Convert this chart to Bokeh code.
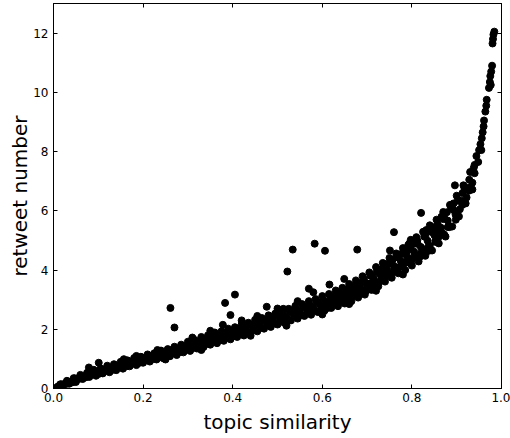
from bokeh.plotting import figure
from bokeh.models import Range1d, FixedTicker, LinearAxis, ColumnDataSource, NumeralTickFormatter, CustomJSTickFormatter
from bokeh.embed import file_html
from bokeh.resources import INLINE

# lower edge of the dense band
band_low_x = [0.005,0.020,0.035,0.050,0.065,0.080,0.095,0.110,0.125,0.140,0.155,0.170,0.185,0.200,0.215,0.230,0.245,0.260,0.275,0.290,0.305,0.320,0.335,0.350,0.365,0.380,0.395,0.410,0.425,0.440,0.455,0.470,0.485,0.500,0.515,0.530,0.545,0.560,0.575,0.590,0.605,0.620,0.635,0.650,0.665,0.680,0.695,0.710,0.725,0.740,0.755,0.770,0.785,0.800,0.815,0.830,0.845,0.860,0.875,0.890,0.905,0.920,0.935]
band_low_y = [0.02,0.07,0.16,0.22,0.32,0.39,0.43,0.51,0.55,0.62,0.67,0.75,0.79,0.87,0.91,0.98,1.02,1.09,1.13,1.22,1.27,1.35,1.40,1.48,1.53,1.61,1.66,1.74,1.79,1.87,1.93,2.02,2.08,2.16,2.22,2.30,2.36,2.45,2.49,2.58,2.63,2.72,2.78,2.87,2.95,3.07,3.17,3.33,3.45,3.61,3.74,3.89,4.00,4.15,4.29,4.48,4.66,4.90,5.13,5.47,5.81,6.25,6.72]

# between lower edge and middle
band_lm_x = [0.0125,0.0275,0.0425,0.0575,0.0725,0.0875,0.1025,0.1175,0.1325,0.1475,0.1625,0.1775,0.1925,0.2075,0.2225,0.2375,0.2525,0.2675,0.2825,0.2975,0.3125,0.3275,0.3425,0.3575,0.3725,0.3875,0.4025,0.4175,0.4325,0.4475,0.4625,0.4775,0.4925,0.5075,0.5225,0.5375,0.5525,0.5675,0.5825,0.5975,0.6125,0.6275,0.6425,0.6575,0.6725,0.6875,0.7025,0.7175,0.7325,0.7475,0.7625,0.7775,0.7925,0.8075,0.8225,0.8375,0.8525,0.8675,0.8825,0.8975,0.9125,0.9275]
band_lm_y = [0.06,0.15,0.21,0.33,0.38,0.48,0.50,0.60,0.63,0.72,0.75,0.85,0.87,0.97,1.00,1.08,1.11,1.20,1.23,1.34,1.38,1.48,1.51,1.62,1.64,1.74,1.77,1.87,1.90,2.02,2.05,2.17,2.20,2.31,2.35,2.46,2.49,2.60,2.63,2.75,2.78,2.90,2.94,3.08,3.14,3.30,3.39,3.58,3.68,3.87,3.97,4.16,4.26,4.44,4.58,4.81,4.99,5.25,5.49,5.87,6.20,6.68]

# middle of the band
band_mid_x = [0.010,0.025,0.040,0.055,0.070,0.085,0.100,0.115,0.130,0.145,0.160,0.175,0.190,0.205,0.220,0.235,0.250,0.265,0.280,0.295,0.310,0.325,0.340,0.355,0.370,0.385,0.400,0.415,0.430,0.445,0.460,0.475,0.490,0.505,0.520,0.535,0.550,0.565,0.580,0.595,0.610,0.625,0.640,0.655,0.670,0.685,0.700,0.715,0.730,0.745,0.760,0.775,0.790,0.805,0.820,0.835,0.850,0.865,0.880,0.895,0.910,0.925,0.940]
band_mid_y = [0.07,0.16,0.24,0.35,0.42,0.50,0.55,0.63,0.68,0.76,0.81,0.89,0.93,1.01,1.05,1.13,1.17,1.25,1.30,1.39,1.45,1.54,1.60,1.68,1.73,1.81,1.86,1.95,2.00,2.09,2.15,2.24,2.30,2.39,2.45,2.54,2.60,2.69,2.75,2.84,2.90,3.01,3.08,3.19,3.29,3.43,3.54,3.71,3.84,4.01,4.14,4.31,4.44,4.62,4.78,4.99,5.18,5.43,5.67,6.00,6.34,6.78,7.27]

# between middle and upper edge
band_mh_x = [0.0175,0.0325,0.0475,0.0625,0.0775,0.0925,0.1075,0.1225,0.1375,0.1525,0.1675,0.1825,0.1975,0.2125,0.2275,0.2425,0.2575,0.2725,0.2875,0.3025,0.3175,0.3325,0.3475,0.3625,0.3775,0.3925,0.4075,0.4225,0.4375,0.4525,0.4675,0.4825,0.4975,0.5125,0.5275,0.5425,0.5575,0.5725,0.5875,0.6025,0.6175,0.6325,0.6475,0.6625,0.6775,0.6925,0.7075,0.7225,0.7375,0.7525,0.7675,0.7825,0.7975,0.8125,0.8275,0.8425,0.8575,0.8725,0.8875,0.9025,0.9175]
band_mh_y = [0.14,0.22,0.34,0.41,0.52,0.57,0.66,0.70,0.79,0.83,0.92,0.96,1.05,1.08,1.17,1.20,1.30,1.33,1.44,1.49,1.60,1.64,1.75,1.79,1.88,1.92,2.02,2.05,2.17,2.21,2.32,2.36,2.47,2.51,2.63,2.67,2.78,2.82,2.94,2.98,3.10,3.17,3.30,3.38,3.54,3.63,3.81,3.93,4.12,4.24,4.43,4.55,4.76,4.90,5.13,5.29,5.55,5.75,6.07,6.34,6.76]

# upper edge of the band
band_high_x = [0.015,0.030,0.045,0.060,0.075,0.090,0.105,0.120,0.135,0.150,0.165,0.180,0.195,0.210,0.225,0.240,0.255,0.270,0.285,0.300,0.315,0.330,0.345,0.360,0.375,0.390,0.405,0.420,0.435,0.450,0.465,0.480,0.495,0.510,0.525,0.540,0.555,0.570,0.585,0.600,0.615,0.630,0.645,0.660,0.675,0.690,0.705,0.720,0.735,0.750,0.765,0.780,0.795,0.810,0.825,0.840,0.855,0.870,0.885,0.900,0.915,0.930]
band_high_y = [0.14,0.26,0.35,0.46,0.53,0.63,0.67,0.77,0.82,0.90,0.95,1.03,1.07,1.15,1.19,1.28,1.33,1.41,1.48,1.58,1.64,1.74,1.80,1.89,1.93,2.02,2.07,2.16,2.22,2.32,2.38,2.47,2.53,2.63,2.69,2.79,2.85,2.95,3.02,3.12,3.19,3.31,3.40,3.53,3.65,3.79,3.92,4.10,4.24,4.41,4.56,4.74,4.91,5.11,5.29,5.51,5.70,5.96,6.20,6.51,6.86,7.31]

# extra fill where the band is wider
fill_a_x = [0.620,0.640,0.660,0.680,0.700,0.720,0.740,0.760,0.780,0.800,0.820,0.840,0.860,0.880,0.900]
fill_a_y = [2.84,2.95,3.07,3.22,3.39,3.58,3.78,3.97,4.16,4.35,4.57,4.82,5.12,5.45,5.90]
fill_b_x = [0.630,0.650,0.670,0.690,0.710,0.730,0.750,0.770,0.790,0.810,0.830,0.850,0.870,0.890]
fill_b_y = [3.17,3.30,3.46,3.62,3.81,4.02,4.22,4.43,4.65,4.89,5.14,5.42,5.72,6.09]
fill_c_x = [0.603,0.612,0.623,0.633,0.642,0.652,0.661,0.668,0.676,0.684,0.693,0.698,0.706,0.713,0.722,0.727,0.736,0.743,0.748,0.757,0.763,0.772,0.777,0.786,0.792,0.798,0.806,0.812,0.818,0.826,0.832,0.838,0.846,0.853,0.858,0.866,0.872,0.878,0.884,0.893,0.898,0.907,0.913,0.922,0.928,0.935,0.938]
fill_c_y = [2.95,2.72,3.10,2.88,3.22,3.00,3.45,3.12,3.40,3.18,3.70,3.30,3.55,3.45,3.95,3.60,3.85,4.20,3.80,4.35,3.95,4.10,4.55,4.25,4.85,4.20,4.50,5.00,4.45,4.70,5.35,4.65,5.45,4.95,5.25,5.80,5.20,5.95,5.45,6.25,5.70,6.05,6.60,6.45,7.05,6.95,7.45]

# points poking out of the band edges
edge_x = [0.185,0.232,0.310,0.350,0.420,0.455,0.500,0.545,0.580,0.250,0.330,0.440,0.520,0.600,0.660,0.720,0.780]
edge_y = [1.10,1.30,1.72,1.95,2.30,2.45,2.70,2.95,3.25,0.98,1.30,1.78,2.12,2.50,2.85,3.30,3.85]

# steep top end
top_x = [0.940,0.944,0.948,0.950,0.953,0.956,0.955,0.958,0.960,0.961,0.964,0.966,0.967,0.972,0.974,0.975,0.977,0.979,0.976,0.980,0.981,0.982,0.984]
top_y = [7.55,7.85,7.65,8.05,8.25,8.45,8.05,8.65,8.85,9.05,9.35,9.55,9.75,10.15,10.35,10.55,10.70,10.90,10.25,11.65,11.80,11.95,12.05]

# scattered outliers
out_x = [0.079,0.101,0.157,0.261,0.270,0.383,0.405,0.395,0.378,0.476,0.513,0.522,0.534,0.583,0.606,0.570,0.616,0.649,0.678,0.751,0.760,0.7975,0.8205,0.896]
out_y = [0.71,0.87,0.99,2.72,2.06,2.89,3.17,2.48,2.15,2.76,2.69,3.95,4.69,4.89,4.65,3.37,3.51,3.70,4.69,4.66,5.28,5.02,5.93,6.86]

x_ticks = [0.0, 0.2, 0.4, 0.6, 0.8, 1.0]
y_ticks = [0, 2, 4, 6, 8, 10, 12]

xs = (band_low_x + band_lm_x + band_mid_x + band_mh_x + band_high_x
      + fill_a_x + fill_b_x + fill_c_x + edge_x + top_x + out_x)
ys = (band_low_y + band_lm_y + band_mid_y + band_mh_y + band_high_y
      + fill_a_y + fill_b_y + fill_c_y + edge_y + top_y + out_y)
src = ColumnDataSource(data=dict(x=xs, y=ys))

p = figure(width=510, height=438, output_backend="svg", toolbar_location=None,
           x_range=Range1d(0, 1.0), y_range=Range1d(0, 13),
           min_border_left=53, min_border_right=9, min_border_top=3, min_border_bottom=50)
p.background_fill_color = "white"
p.border_fill_color = "white"
p.outline_line_color = "black"
p.outline_line_width = 1
p.xgrid.visible = False
p.ygrid.visible = False

p.scatter("x", "y", source=src, size=7, fill_color="black", line_color="black")

FONT = "DejaVu Sans"
for ax in (p.xaxis[0], p.yaxis[0]):
    ax.major_tick_in = 4
    ax.major_tick_out = 0
    ax.minor_tick_line_color = None
    ax.axis_line_color = "black"
    ax.major_label_text_font = FONT
    ax.major_label_text_font_size = "12px"
    ax.major_label_text_color = "black"
    ax.axis_label_text_font = FONT
    ax.axis_label_text_font_size = "20px"
    ax.axis_label_text_font_style = "normal"
    ax.axis_label_text_color = "black"

p.xaxis[0].ticker = FixedTicker(ticks=x_ticks)
p.xaxis[0].formatter = NumeralTickFormatter(format="0.0")
p.xaxis[0].axis_label = "topic similarity"
p.xaxis[0].major_label_standoff = 4
p.xaxis[0].axis_label_standoff = 5

p.yaxis[0].ticker = FixedTicker(ticks=y_ticks)
p.yaxis[0].formatter = NumeralTickFormatter(format="0")
p.yaxis[0].axis_label = "retweet number"
p.yaxis[0].major_label_standoff = 5
p.yaxis[0].axis_label_standoff = -2

blank = CustomJSTickFormatter(code="return ''")
right = LinearAxis(ticker=FixedTicker(ticks=y_ticks), major_tick_in=4, major_tick_out=0,
                   minor_tick_line_color=None, formatter=blank,
                   major_label_standoff=0, axis_line_color="black")
top = LinearAxis(ticker=FixedTicker(ticks=x_ticks), major_tick_in=4, major_tick_out=0,
                 minor_tick_line_color=None, formatter=blank,
                 major_label_standoff=0, axis_line_color="black")
p.add_layout(right, "right")
p.add_layout(top, "above")

open("out.html", "w").write(file_html(p, INLINE))
